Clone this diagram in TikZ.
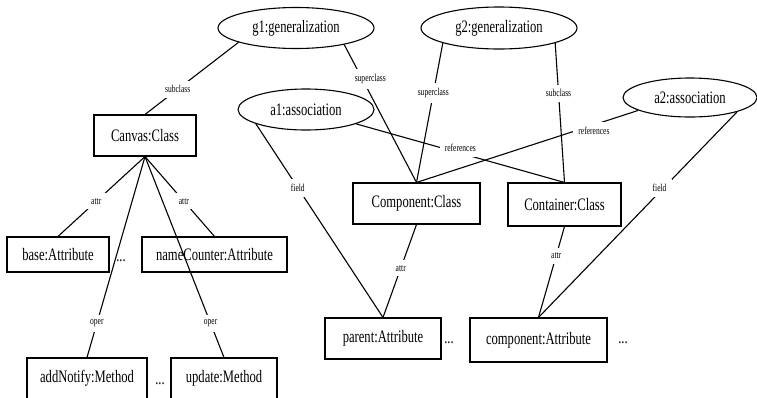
\documentclass[tikz,border=0pt]{standalone}
\usepackage{fontspec}
\setmainfont[FakeStretch=0.72]{Liberation Serif}
\usetikzlibrary{shapes.geometric}
\begin{document}
\begin{tikzpicture}[x=1pt,y=-1pt,line width=1.1pt,
  obj/.style={draw, rectangle, inner sep=0pt, font=\fontsize{17.5}{20}\selectfont},
  rel/.style={draw, ellipse, inner sep=0pt, font=\fontsize{17.5}{20}\selectfont},
  lbl/.style={fill=white, inner sep=5pt, font=\fontsize{10.5}{12}\selectfont},
  gap/.style={inner sep=0pt, font=\fontsize{17.5}{20}\selectfont}
]
\useasboundingbox (0,0) rectangle (757,397);
% relation ellipses
\node[rel, minimum width=156pt, minimum height=41pt] (g1) at (296,28) {g1:generalization};
\node[rel, minimum width=156pt, minimum height=42pt] (g2) at (499,28) {g2:generalization};
\node[rel, minimum width=136pt, minimum height=41pt] (a1) at (306,109.5) {a1:association};
\node[rel, minimum width=134pt, minimum height=39pt] (a2) at (690,97.5) {a2:association};
% classes
\node[obj, minimum width=102pt, minimum height=41pt] (canvas) at (145,135.5) {Canvas:Class};
\node[obj, minimum width=127pt, minimum height=41pt] (compc) at (416.5,203.5) {Component:Class};
\node[obj, minimum width=113pt, minimum height=43pt] (contc) at (564.5,204.5) {Container:Class};
% attributes and methods
\node[obj, minimum width=102pt, minimum height=35pt] (base) at (58,254.5) {base:Attribute};
\node[obj, minimum width=145pt, minimum height=35pt] (namec) at (214.5,254.5) {nameCounter:Attribute};
\node[obj, minimum width=120pt, minimum height=41pt] (addn) at (87,378.5) {addNotify:Method};
\node[obj, minimum width=106pt, minimum height=41pt] (upd) at (224,378.5) {update:Method};
\node[obj, minimum width=116pt, minimum height=41pt] (parent) at (383,338.5) {parent:Attribute};
\node[obj, minimum width=137pt, minimum height=44pt] (compa) at (538.5,340) {component:Attribute};
% ellipses for omitted elements
\node[gap] (d1) at (121,261) {...};
\node[gap] (d2) at (160,384) {...};
\node[gap] (d3) at (449,343) {...};
\node[gap] (d4) at (623,343) {...};
% connectors
\draw (g1.194) -- node[lbl,pos=0.65] {subclass} (canvas.north);
\draw (g1.341.6) -- node[lbl,pos=0.25,xshift=8pt] {superclass} (compc.north);
\draw (g2.195) -- node[lbl,pos=0.36] {superclass} (compc.north);
\draw (g2.345.7) -- node[lbl,pos=0.36] {subclass} (contc.north);
\draw (a1.344.6) -- node[lbl,pos=0.5,yshift=5pt] {references} (contc.north);
\draw (a2.194.9) -- node[lbl,pos=0.2,yshift=-6pt] {references} (compc.north);
\draw (a1.196.4) -- node[lbl,pos=0.33] {field} (parent.north);
\draw (a2.343.2) -- node[lbl,pos=0.37,xshift=-4pt] {field} (compa.north);
\draw (compc.south) -- node[lbl,pos=0.47] {attr} (parent.north);
\draw (contc.south) -- node[lbl,pos=0.32] {attr} (compa.north);
\draw (canvas.south) -- node[lbl,pos=0.56] {attr} (base.north);
\draw (canvas.south) -- node[lbl,pos=0.56] {attr} (namec.north);
\draw (canvas.south) -- node[lbl,pos=0.83] {oper} (addn.north);
\draw (canvas.south) -- node[lbl,pos=0.83] {oper} (upd.north);
\end{tikzpicture}
\end{document}
